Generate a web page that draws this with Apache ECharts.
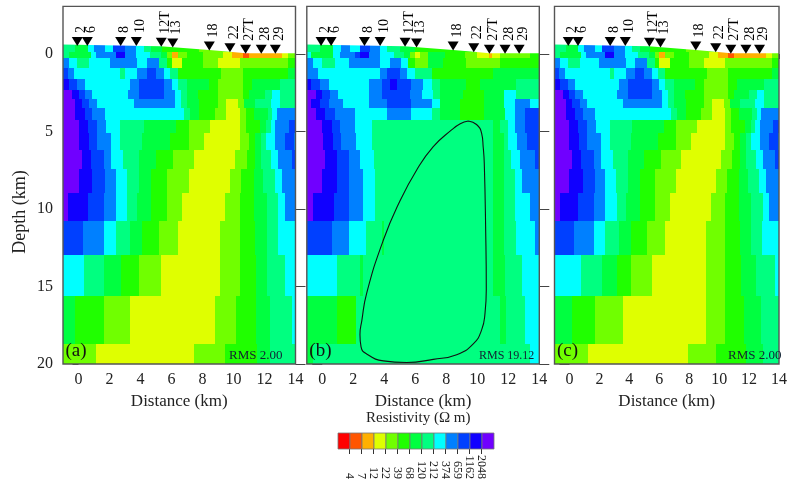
<!DOCTYPE html>
<html><head><meta charset="utf-8">
<style>html,body{margin:0;padding:0;background:#fff}#c{width:790px;height:485px;filter:blur(0.45px)}</style>
<script src="https://cdn.jsdelivr.net/npm/echarts@6/dist/echarts.min.js"></script>
</head><body><div id="c"></div>
<script>
// Colour classes of the resistivity scale, low to high
const classColors=['#FF0000','#FF5500','#FFB000','#DFFF00','#70FF00','#20FF00','#00FF40','#00FF80','#00FFFF','#0080FF','#0040FF','#1000FF','#7000FF'];
const resistivityTicks=['4','7','12','22','39','68','120','212','374','659','1162','2048'];
const distanceTicks=[0,2,4,6,8,10,12,14];
const depthTicks=[0,5,10,15,20];
// Layer boundaries (km depth)
const depthEdges=[-0.7,-0.15,0.28,0.92,1.6,2.3,2.9,3.5,4.26,5.1,6.2,7.45,8.95,10.75,12.95,15.6,18.7,20];
// Each row: end distance, class, end distance, class ...
const modelA=[
[-0.2,7,0.6,6,1,8,1.7,9,2.2,8,3,10,3.7,9,4.2,8,4.7,7,5.4,6,7.8,5,14,4],
[-0.6,7,0.8,6,1.1,8,2.4,9,3,11,3.7,9,4.6,8,5.3,7,5.7,6,6,4,6.4,2,7,4,8,5,9.3,4,9.9,3,10.6,2,11,1,13.1,2,13.5,3,14,4],
[-0.6,9,-0.1,8,0.7,7,2,8,3.8,9,4.4,8,5.2,9,5.7,7,6,5,6.7,3,8,5,9,4,10.4,3,13.5,4,14,5],
[-0.7,10,-0.3,9,0.6,8,2.7,8,3,7,3.8,8,4.4,9,5,10,5.5,9,5.9,8,6.4,7,9.2,5,10.6,4,13.5,5,14,6],
[-0.6,11,-0.1,10,0.4,9,3.3,8,3.9,9,5.5,10,6,9,6.4,8,7,7,8.4,6,9,5,10.6,4,11.2,5,12.3,6,13,6,14,7],
[-0.4,12,0,11,0.4,10,0.9,9,3.2,8,3.9,9,5.5,10,6.2,9,6.6,8,7,7,7.7,6,9,5,10.6,4,11,5,12,6,12.5,7,13,8,14,7],
[-0.2,12,0.2,11,0.7,10,1.2,9,3.6,8,6.2,9,6.6,8,7,7,7.8,6,9,5,9.5,4,10.3,3,10.7,4,11.4,6,12.4,7,13,8,14,7],
[-0.2,12,0.4,11,0.9,10,1.7,9,6.8,8,7.2,7,7.8,6,8.8,5,9.5,4,10.4,3,10.8,4,11.3,5,12.2,6,12.5,7,12.8,8,14,9],
[0,12,0.6,11,1.2,10,1.8,9,2.7,8,4.2,7,6.3,6,7.1,5,8.5,4,10.4,3,10.8,4,11.7,5,12.1,6,12.4,7,12.7,8,13.6,9,14,10],
[0,12,0.65,11,1.2,10,2.1,9,2.7,8,4.1,7,5.9,6,7.1,5,8.1,4,10.4,3,11,4,11.4,5,11.8,6,12.1,7,12.7,8,13.3,9,13.9,10,14,9],
[0.2,12,0.8,11,1.65,10,2.1,9,2.9,8,3.9,7,5,6,6.1,5,7.45,4,10.1,3,10.85,4,11.4,5,11.8,6,12.45,7,12.9,8,13.75,9,14,10],
[0,12,0.9,11,1.7,10,2.4,9,3.1,8,3.9,7,4.7,6,5.7,5,7.1,4,9.8,3,10.5,4,11.3,5,11.9,6,12.65,7,13.1,8,14,9],
[-0.65,12,0.6,11,1.65,10,2.4,9,3.15,8,3.8,7,4.7,6,5.7,5,6.7,4,9.45,3,10.4,4,11.3,5,12.15,6,12.9,7,13.35,8,14,9],
[0.3,10,1.65,9,2.4,8,3.3,7,4.1,6,5.2,5,6.4,4,9.1,3,10.4,4,11.4,5,12.15,6,12.85,7,14,8],
[0.35,8,1.65,7,2.75,6,3.9,5,5.3,4,9.1,3,10.4,4,11.45,5,12.15,6,13.3,7,14,8],
[-0.2,6,1.65,5,3.3,4,8.8,3,10.15,4,11.45,5,12.35,6,13.75,7,14,8],
[1.15,4,7.45,3,9.45,4,11.5,5,12.35,6,14,7]
];
const modelB=[
[-0.15,7,0.7,6,1.2,8,1.8,9,2.4,8,3.1,10,3.7,9,4.15,8,5,7,6,6,14,5],
[-0.7,8,0.7,6,1.15,8,2.1,9,2.4,10,3,11,3.7,9,4.6,8,5.3,7,5.65,6,6,4,6.3,3,6.85,4,7.9,6,9.2,5,9.95,4,10.75,3,10.95,2,11.45,3,13.4,4,14,5],
[-0.6,9,-0.05,8,0.8,7,1.7,8,3.7,9,4.35,8,5.1,9,5.55,8,6,5,6.85,4,7.8,6,9.3,5,11.45,4,14,5],
[-0.25,9,0.5,8,3.7,8,4.15,9,5,10,5.45,9,5.97,8,7.05,7,11,5,14,6],
[-0.7,11,-0.15,10,0.4,9,3,8,3.85,9,4.35,10,4.8,11,5.75,10,6.5,9,7.05,8,7.6,7,9.3,6,10.2,5,12.5,6,14,7],
[-0.4,12,0,11,0.5,10,1,9,3,8,3.85,9,5.65,10,6.4,9,7.15,8,7.6,7,9.1,6,10.4,5,11.7,6,12.5,8,14,7],
[-0.7,12,-0.15,11,0.4,10,1.35,9,3,8,4.15,9,5.75,10,7.05,9,7.6,8,8.9,6,10.4,5,11.7,6,12.45,8,13.4,9,14,8],
[-0.4,12,0.2,11,0.8,10,2.1,9,4.15,8,5.75,9,7.05,8,7.6,7,8.9,6,10.4,5,11.8,6,12.45,8,13.1,9,14,10],
[0,12,0.6,11,1.15,10,2.1,9,3.2,8,11,7,11.47,6,12,7,12.45,8,13.1,9,14,10],
[0.05,12,0.7,11,1.2,10,2.15,9,3.2,8,11,7,11.7,6,12,7,12.55,8,13.2,9,14,10],
[0.17,12,0.92,11,1.7,10,2.45,9,3.35,8,11,7,11.7,6,12.15,7,12.75,8,13.7,9,14,10],
[-0.05,12,0.92,11,1.7,10,2.6,9,3.4,8,11,7,11.7,6,12.45,7,12.9,8,14,9],
[-0.6,12,0.77,11,1.7,10,2.6,9,3.4,8,11,7,11.7,6,12.45,7,13.4,8,14,9],
[0.65,10,1.7,9,2.8,8,3.83,7,3.95,6,11,7,11.7,6,12.5,7,13.7,8,14,9],
[0.97,8,2.4,7,2.6,6,11,7,11.8,6,12.9,7,14,8],
[0.93,6,2.15,5,11.45,7,11.85,6,13.1,7,14,8],
[-0.6,6,13.4,7,14,8]
];
const modelCDeep=[
[0.75,8,2.15,7,3.2,6,4.1,5,5.5,4,9.15,3,10.4,4,11.45,5,12.45,6,13.75,7,14,8],
[0.17,6,1.68,5,3.6,4,9.15,3,10.4,4,11.65,5,12.8,6,14,7],
[1.25,4,7.9,3,9.8,4,11.8,5,12.9,6,14,7]
];
const modelC=modelA.slice(0,14).concat(modelCDeep);
// Stations
const stationNames=['2','6','8','10','12T','13','18','22','27T','28','29'];
const stationDistance=[-0.08,0.57,2.72,3.73,5.34,6.08,8.44,9.77,10.78,11.79,12.7];
const stationDepth=[-0.55,-0.55,-0.55,-0.55,-0.5,-0.45,-0.25,-0.15,-0.05,-0.05,-0.05];
// Ground surface
const surfaceDistance=[-1,5.3,8.44,9.77,10.78,14];
const surfaceDepth=[-0.62,-0.5,-0.26,-0.15,-0.04,-0.04];
// Prism outline in panel (b)
const prismDistance=[9.42,9.95,10.28,10.38,10.45,10.54,10.58,10.5,10.28,9.74,8.67,7.16,5.44,3.94,2.86,2.5,2.43,2.55,2.86,3.94,5,6.09,7.16,8.34,8.9,9.42];
const prismDepth=[4.32,4.55,5.12,6,7.05,11.35,15.2,16.7,17.8,18.7,19.4,19.7,19.9,19.8,19.35,18.9,18.1,17.2,15.44,12,9.5,7.48,5.98,4.9,4.5,4.32];

const serif='"Liberation Serif","Times New Roman",serif';
const panels=[
 {model:modelA,left:63,label:'(a)',rms:'RMS 2.00',rmsX:229,rmsSize:13},
 {model:modelB,left:306.8,label:'(b)',rms:'RMS 19.12',rmsX:479,rmsSize:12},
 {model:modelC,left:554.5,label:'(c)',rms:'RMS 2.00',rmsX:728,rmsSize:13}
];
const grid=[],xAxis=[],yAxis=[],series=[],graphic=[];
function rectRender(params,api){
  const a=api.coord([api.value(0),api.value(2)]),b=api.coord([api.value(1),api.value(3)]);
  const x=Math.round(a[0]),y=Math.round(a[1]);
  return {type:'rect',shape:{x:x,y:y,width:Math.round(b[0])-x,height:Math.round(b[1])-y},
    style:{fill:classColors[api.value(4)]}};
}
panels.forEach((p,i)=>{
  grid.push({left:p.left,top:6.4,width:232.5,height:357.6,show:true,borderColor:'#555',borderWidth:1.4,z:5,backgroundColor:'transparent'});
  xAxis.push({type:'value',gridIndex:i,min:-1,max:14,splitLine:{show:false},axisLine:{show:false},
    axisTick:{show:true,length:5,lineStyle:{color:'#444'},customValues:distanceTicks,inside:false},
    axisLabel:{fontFamily:serif,fontSize:16,color:'#222',margin:8,customValues:distanceTicks,hideOverlap:false},
    name:'Distance (km)',nameLocation:'middle',nameGap:26,nameTextStyle:{fontFamily:serif,fontSize:17,color:'#222'}});
  yAxis.push({type:'value',gridIndex:i,inverse:true,min:-3.07,max:20,position:'left',splitLine:{show:false},axisLine:{show:false},
    axisTick:{show:true,length:i===0?6:10,lineStyle:{color:'#444'},customValues:depthTicks},
    axisLabel:{show:i===0,fontFamily:serif,fontSize:16,color:'#222',margin:10,customValues:depthTicks}});
  const cells=[];
  p.model.forEach((row,r)=>{
    let x0=-1;
    for(let k=0;k<row.length;k+=2){cells.push([x0,row[k],depthEdges[r],depthEdges[r+1],row[k+1]]);x0=row[k];}
  });
  series.push({type:'custom',xAxisIndex:i,yAxisIndex:i,data:cells,renderItem:rectRender,encode:{x:[0,1],y:[2,3]},silent:true,z:1});
  const surf=surfaceDistance.map((x,k)=>[x,surfaceDepth[k]]);
  series.push({type:'custom',xAxisIndex:i,yAxisIndex:i,data:surf,silent:true,z:2,
    encode:{x:0,y:1},
    renderItem:(params,api)=>{
      if(params.dataIndex!==0) return {type:'group',children:[]};
      const pts=surf.map(v=>api.coord(v));
      pts.push(api.coord([14,-1.5]));pts.push(api.coord([-1,-1.5]));
      return {type:'polygon',shape:{points:pts},style:{fill:'#fff'}};
    }});
  series.push({type:'scatter',xAxisIndex:i,yAxisIndex:i,z:3,silent:true,symbol:'triangle',symbolRotate:180,symbolSize:[11,9],symbolOffset:[0,-4],
    itemStyle:{color:'#000',opacity:1},
    data:stationNames.map((n,k)=>({name:n,value:[stationDistance[k],stationDepth[k]]})),
    label:{show:true,position:'top',distance:4,offset:[0,4],rotate:90,align:'left',verticalAlign:'middle',formatter:'{b}',fontFamily:serif,fontSize:14,color:'#000'}});
  if(i===1){
    series.push({type:'line',xAxisIndex:i,yAxisIndex:i,z:4,silent:true,showSymbol:false,smooth:0.5,
      lineStyle:{color:'#111',width:1.1},data:prismDistance.map((x,k)=>[x,prismDepth[k]])});
  }
  graphic.push({type:'text',left:p.left+2.5,top:342,z:10,silent:true,style:{text:p.label,font:'19px '+serif,fill:'#111'}});
  graphic.push({type:'text',left:p.rmsX,top:349.5,z:10,silent:true,style:{text:p.rms,font:p.rmsSize+'px '+serif,fill:'#123'}});
});
// Right-hand depth ticks
panels.forEach((p,i)=>{
  yAxis.push({type:'value',gridIndex:i,inverse:true,min:-3.07,max:20,position:'right',splitLine:{show:false},axisLine:{show:false},
    axisTick:{show:i<2,length:10,lineStyle:{color:'#444'},customValues:depthTicks},axisLabel:{show:false}});
  series.push({type:'scatter',xAxisIndex:i,yAxisIndex:3+i,data:[],silent:true});
});
// Colour bar
const barIndex=classColors.map((c,k)=>[k,k+1,0,1,k]);
grid.push({left:337.5,top:433,width:156,height:16,show:false});
xAxis.push({type:'value',gridIndex:3,min:0,max:13,splitLine:{show:false},axisLine:{show:false},
  axisTick:{show:true,length:5,lineStyle:{color:'#333'},customValues:resistivityTicks.map((t,k)=>k+1)},
  axisLabel:{rotate:-90,align:'right',verticalAlign:'middle',margin:30,fontFamily:serif,fontSize:12,color:'#222',hideOverlap:false,
    customValues:resistivityTicks.map((t,k)=>k+1),formatter:v=>resistivityTicks[Math.round(v)-1]||''}});
yAxis.push({type:'value',gridIndex:3,min:0,max:1,show:false});
series.push({type:'custom',xAxisIndex:3,yAxisIndex:6,data:barIndex,silent:true,encode:{x:[0,1],y:[2,3]},
  renderItem:(params,api)=>{
    const r=rectRender(params,api);r.style.stroke='#777';r.style.lineWidth=0.8;
    r.shape.y=Math.min(r.shape.y,r.shape.y+r.shape.height);r.shape.height=Math.abs(r.shape.height);return r;}});
graphic.push({type:'text',left:366,top:411,silent:true,style:{text:'Resistivity (Ω m)',font:'15px '+serif,fill:'#222'}});
graphic.push({type:'text',x:20,y:212,rotation:Math.PI/2,silent:true,style:{text:'Depth (km)',font:'18px '+serif,fill:'#222',align:'center',verticalAlign:'middle'}});

const chart=echarts.init(document.getElementById('c'),null,{renderer:'canvas'});
chart.setOption({animation:false,backgroundColor:'#fff',grid,xAxis,yAxis,series,graphic});
</script></body></html>
